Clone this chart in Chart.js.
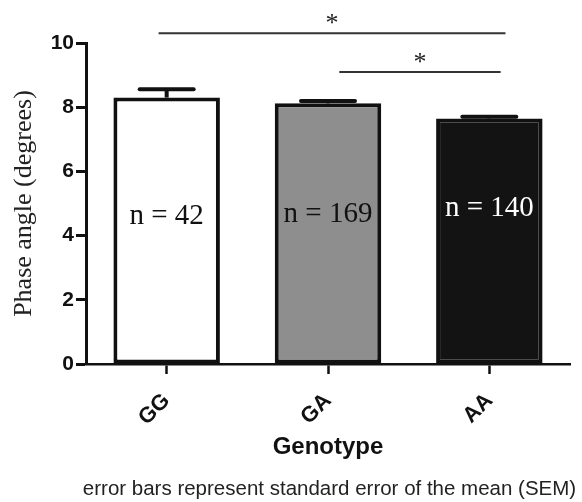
<!DOCTYPE html>
<html>
<head>
<meta charset="utf-8">
<script src="https://cdn.jsdelivr.net/npm/chart.js@4"></script>
<style>
  html, body { margin: 0; padding: 0; background: #fff; }
  .wrap { position: relative; width: 582px; height: 502px; }
</style>
</head>
<body>
<div class="wrap"><canvas id="chart"></canvas></div>
<script>
const genotypes = ['GG', 'GA', 'AA'];
const meanPhase = [8.3, 8.12, 7.65];
const semPhase = [0.26, 0.07, 0.05];
const sampleSize = [42, 169, 140];
const yTicks = [0, 2, 4, 6, 8, 10];
// significance comparisons (category indexes) and bracket height in degrees
const sigPairs = [[0, 2], [1, 2]];
const sigHeight = [10.3, 9.1];
const sigMark = ['*', '*'];
const footnote = 'error bars represent standard error of the mean (SEM)';

const ink = '#111';
const barFill = ['#ffffff', '#8e8e8e', '#131313'];
const nColor = ['#111', '#111', '#fff'];

const serif = "'Liberation Serif', 'Times New Roman', serif";
const sans = "'Liberation Sans', Arial, sans-serif";

// error bars, n labels, significance brackets and footnote
const extras = {
  id: 'extras',
  afterDatasetsDraw(chart) {
    const { ctx, scales: { x, y } } = chart;
    const meta = chart.getDatasetMeta(0);
    // n labels sit at slightly different heights in the original
    const nAt = [4.6, 4.66, 4.84];
    ctx.save();

    meta.data.forEach((bar, i) => {
      const top = y.getPixelForValue(meanPhase[i] + semPhase[i]);
      ctx.strokeStyle = ink;
      ctx.lineWidth = 4;
      ctx.lineCap = 'butt';
      ctx.beginPath();
      ctx.moveTo(bar.x, y.getPixelForValue(meanPhase[i]));
      ctx.lineTo(bar.x, top);
      ctx.stroke();
      ctx.lineCap = 'round';
      ctx.beginPath();
      ctx.moveTo(bar.x - 27, top);
      ctx.lineTo(bar.x + 27, top);
      ctx.stroke();

      ctx.fillStyle = nColor[i];
      ctx.font = '29px ' + serif;
      ctx.textAlign = 'center';
      ctx.textBaseline = 'middle';
      ctx.fillText('n = ' + sampleSize[i], bar.x, y.getPixelForValue(nAt[i]));
    });

    // bracket ends are a little uneven in the original
    const ext = [[-0.05, 0.1], [0.07, 0.07]];
    sigPairs.forEach(([a, b], k) => {
      const x1 = x.getPixelForValue(a + ext[k][0]);
      const x2 = x.getPixelForValue(b + ext[k][1]);
      const yy = y.getPixelForValue(sigHeight[k]);
      ctx.strokeStyle = '#333';
      ctx.lineWidth = 2;
      ctx.lineCap = 'butt';
      ctx.beginPath();
      ctx.moveTo(x1, yy);
      ctx.lineTo(x2, yy);
      ctx.stroke();
      ctx.fillStyle = '#222';
      ctx.font = '26px ' + serif;
      ctx.textAlign = 'center';
      ctx.textBaseline = 'alphabetic';
      ctx.fillText(sigMark[k], (x1 + x2) / 2, yy - 2);
    });

    ctx.fillStyle = '#222';
    ctx.font = '20.5px ' + sans;
    ctx.textAlign = 'center';
    ctx.textBaseline = 'middle';
    ctx.fillText(footnote, 329.5, 489);
    ctx.restore();
  },
};

new Chart(document.getElementById('chart'), {
  type: 'bar',
  data: {
    labels: genotypes,
    datasets: [
      {
        data: meanPhase,
        backgroundColor: barFill,
        borderColor: ink,
        borderWidth: 4,
        borderSkipped: false,
        categoryPercentage: 1,
        barPercentage: 0.66,
      },
    ],
  },
  options: {
    responsive: true,
    maintainAspectRatio: false,
    animation: false,
    layout: { padding: { top: 43, right: 12, bottom: 0, left: 0 } },
    plugins: { legend: { display: false }, tooltip: { enabled: false } },
    scales: {
      x: {
        afterFit: (s) => { s.height = 138; },
        grid: { offset: false, drawOnChartArea: false, drawTicks: true, tickLength: 10, tickWidth: 2.5, tickColor: ink },
        border: { display: true, color: ink, width: 2.5 },
        ticks: {
          minRotation: 45,
          maxRotation: 45,
          padding: 14,
          color: ink,
          font: { family: sans, size: 22, weight: 'bold' },
        },
        title: {
          display: true,
          text: 'Genotype',
          color: ink,
          font: { family: sans, size: 24, weight: 'bold' },
          padding: { top: 0, bottom: 40 },
        },
      },
      y: {
        min: 0,
        max: 10,
        afterFit: (s) => { s.width = 86; },
        afterBuildTicks: (s) => { s.ticks = yTicks.map((v) => ({ value: v })); },
        grid: { drawOnChartArea: false, drawTicks: true, tickLength: 10, tickWidth: 3, tickColor: ink },
        border: { display: true, color: ink, width: 3 },
        ticks: {
          padding: 2,
          color: ink,
          font: { family: sans, size: 21, weight: 'bold' },
        },
        title: {
          display: true,
          text: 'Phase angle (degrees)',
          color: '#222',
          font: { family: serif, size: 26, weight: 'normal' },
          padding: { top: 9, bottom: 0 },
        },
      },
    },
  },
  plugins: [extras],
});
</script>
</body>
</html>
